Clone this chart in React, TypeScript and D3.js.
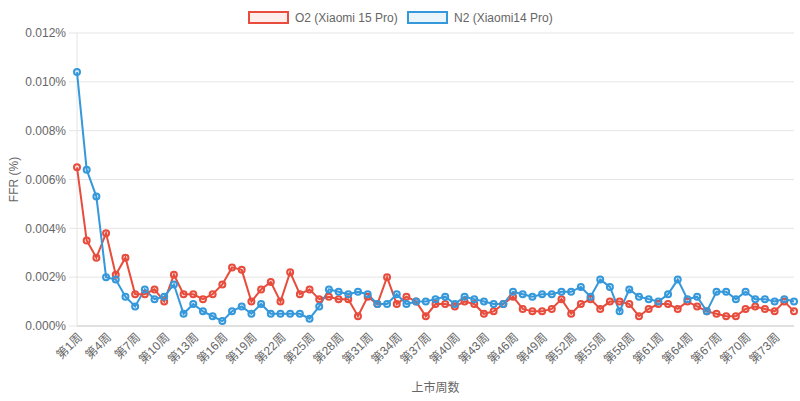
import { useRef, useEffect } from "react";
import * as d3 from "d3";

// FFR values in percent, weeks 1..75
const weeks = d3.range(1, 76).map((w) => `第${w}周`);

const o2Values = [
  0.0065, 0.0035, 0.0028, 0.0038, 0.0021, 0.0028, 0.0013, 0.0013, 0.0015, 0.0010,
  0.0021, 0.0013, 0.0013, 0.0011, 0.0013, 0.0017, 0.0024, 0.0023, 0.0010, 0.0015,
  0.0018, 0.0010, 0.0022, 0.0013, 0.0015, 0.0011, 0.0012, 0.0011, 0.0011, 0.0004,
  0.0012, 0.0009, 0.0020, 0.0009, 0.0012, 0.0010, 0.0004, 0.0009, 0.0009, 0.0008,
  0.0010, 0.0009, 0.0005, 0.0006, 0.0009, 0.0012, 0.0007, 0.0006, 0.0006, 0.0007,
  0.0011, 0.0005, 0.0009, 0.0011, 0.0007, 0.0010, 0.0010, 0.0009, 0.0004, 0.0007,
  0.0009, 0.0009, 0.0007, 0.0010, 0.0008, 0.0006, 0.0005, 0.0004, 0.0004, 0.0007,
  0.0008, 0.0007, 0.0006, 0.0010, 0.0006,
];

const n2Values = [
  0.0104, 0.0064, 0.0053, 0.0020, 0.0019, 0.0012, 0.0008, 0.0015, 0.0011, 0.0012,
  0.0017, 0.0005, 0.0009, 0.0006, 0.0004, 0.0002, 0.0006, 0.0008, 0.0005, 0.0009,
  0.0005, 0.0005, 0.0005, 0.0005, 0.0003, 0.0008, 0.0015, 0.0014, 0.0013, 0.0014,
  0.0013, 0.0009, 0.0009, 0.0013, 0.0009, 0.0010, 0.0010, 0.0011, 0.0012, 0.0009,
  0.0012, 0.0011, 0.0010, 0.0009, 0.0009, 0.0014, 0.0013, 0.0012, 0.0013, 0.0013,
  0.0014, 0.0014, 0.0016, 0.0012, 0.0019, 0.0016, 0.0006, 0.0015, 0.0012, 0.0011,
  0.0010, 0.0013, 0.0019, 0.0011, 0.0012, 0.0006, 0.0014, 0.0014, 0.0011, 0.0014,
  0.0011, 0.0011, 0.0010, 0.0011, 0.0010,
];

const yTicks = [0, 0.002, 0.004, 0.006, 0.008, 0.01, 0.012];

const series = [
  { label: "O2 (Xiaomi 15 Pro)", values: o2Values, color: "#e74c3c", fill: "rgba(231,76,60,0.1)" },
  { label: "N2 (Xiaomi14 Pro)", values: n2Values, color: "#3498db", fill: "rgba(52,152,219,0.1)" },
];

const FONT = "'Liberation Sans', Arial, 'Noto Sans CJK SC', sans-serif";
const TEXT = "#666";

export default function App() {
  const svgRef = useRef<SVGSVGElement>(null);

  useEffect(() => {
    if (!svgRef.current) return;
    const width = 800;
    const height = 401;
    const margin = { top: 33, right: 6, bottom: 75, left: 77 };
    const innerW = width - margin.left - margin.right;
    const innerH = height - margin.top - margin.bottom;

    const svg = d3.select(svgRef.current);
    svg.selectAll("*").remove();
    svg.attr("width", width).attr("height", height).style("font-family", FONT);

    const g = svg.append("g").attr("transform", `translate(${margin.left},${margin.top})`);

    // ── Scales ────────────────────────────────────────────────────
    const xScale = d3.scalePoint<string>().domain(weeks).range([0, innerW]);
    const yScale = d3.scaleLinear().domain([0, 0.012]).range([innerH, 0]);

    // ── Grid + y ticks ────────────────────────────────────────────
    g.append("g")
      .selectAll("line")
      .data(yTicks)
      .join("line")
      .attr("x1", -8)
      .attr("x2", innerW)
      .attr("y1", (d) => yScale(d))
      .attr("y2", (d) => yScale(d))
      .attr("stroke", "#e5e5e5")
      .attr("stroke-width", 1);

    g.append("g")
      .selectAll("text")
      .data(yTicks)
      .join("text")
      .attr("x", -11)
      .attr("y", (d) => yScale(d))
      .attr("dy", "0.35em")
      .attr("text-anchor", "end")
      .attr("font-size", 12)
      .attr("fill", TEXT)
      .text((d) => `${d3.format(".3f")(d)}%`);

    // axis borders
    g.append("line")
      .attr("x1", 0).attr("x2", 0)
      .attr("y1", 0).attr("y2", innerH)
      .attr("stroke", "#e5e5e5");
    g.append("line")
      .attr("x1", 0).attr("x2", innerW)
      .attr("y1", innerH).attr("y2", innerH)
      .attr("stroke", "#cfcfcf");

    // ── X labels (every 3rd) ──────────────────────────────────────
    g.append("g")
      .selectAll("text")
      .data(weeks.filter((_, i) => i % 3 === 0))
      .join("text")
      .attr("transform", (d) => `translate(${(xScale(d) ?? 0) + 3},${innerH + 9}) rotate(-45)`)
      .attr("dy", "0.35em")
      .attr("text-anchor", "end")
      .attr("font-size", 12)
      .attr("fill", TEXT)
      .text((d) => d);

    // ── Lines + points ────────────────────────────────────────────
    const line = d3.line<number>()
      .x((_, i) => xScale(weeks[i]) ?? 0)
      .y((d) => yScale(d));

    series.forEach((s) => {
      g.append("path")
        .datum(s.values)
        .attr("d", line)
        .attr("fill", "none")
        .attr("stroke", s.color)
        .attr("stroke-width", 2);
    });
    series.forEach((s) => {
      g.append("g")
        .selectAll("circle")
        .data(s.values)
        .join("circle")
        .attr("cx", (_, i) => xScale(weeks[i]) ?? 0)
        .attr("cy", (d) => yScale(d))
        .attr("r", 3)
        .attr("fill", s.fill)
        .attr("stroke", s.color)
        .attr("stroke-width", 2);
    });

    // ── Axis titles ───────────────────────────────────────────────
    svg.append("text")
      .attr("transform", `translate(14,${margin.top + innerH / 2}) rotate(-90)`)
      .attr("dy", "0.35em")
      .attr("text-anchor", "middle")
      .attr("font-size", 12)
      .attr("fill", TEXT)
      .text("FFR (%)");

    svg.append("text")
      .attr("x", margin.left + innerW / 2)
      .attr("y", 392)
      .attr("text-anchor", "middle")
      .attr("font-size", 12)
      .attr("fill", TEXT)
      .text("上市周数");

    // ── Legend ────────────────────────────────────────────────────
    const legendX = [248, 407];
    series.forEach((s, i) => {
      const lg = svg.append("g").attr("transform", `translate(${legendX[i]},11)`);
      lg.append("rect")
        .attr("x", 1).attr("y", 1)
        .attr("width", 39).attr("height", 11)
        .attr("fill", s.fill)
        .attr("stroke", s.color)
        .attr("stroke-width", 2);
      lg.append("text")
        .attr("x", 47)
        .attr("y", 6.5)
        .attr("dy", "0.35em")
        .attr("font-size", 12)
        .attr("fill", TEXT)
        .text(s.label);
    });
  }, []);

  return (
    <div style={{ position: "fixed", left: 0, top: 0, background: "#fff" }}>
      <svg ref={svgRef} width={800} height={401} style={{ display: "block" }} />
    </div>
  );
}
